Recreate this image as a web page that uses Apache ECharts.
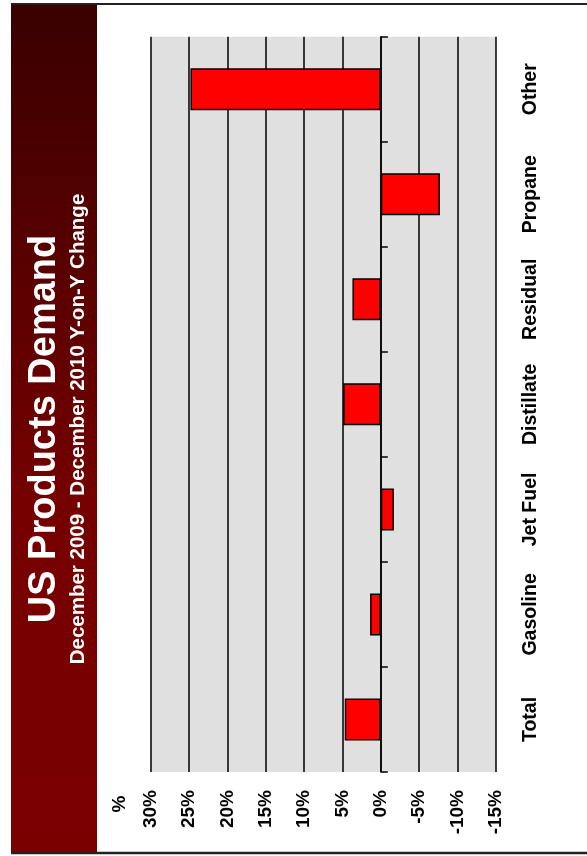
<!DOCTYPE html>
<html>
<head>
<meta charset="utf-8">
<script src="https://cdn.jsdelivr.net/npm/echarts@6/dist/echarts.min.js"></script>
<style>
  html, body { margin: 0; padding: 0; background: #fff; }
  #chart { width: 587px; height: 856px; }
</style>
</head>
<body>
<div id="chart"></div>
<script>
// Year-on-year change in US product demand, Dec 2009 to Dec 2010 (%)
const categories = ['Total', 'Gasoline', 'Jet Fuel', 'Distillate', 'Residual', 'Propane', 'Other'];
const changePct = [4.7, 1.4, -1.7, 4.9, 3.7, -7.7, 24.8];
const valueMin = -15;
const valueMax = 30;
const valueStep = 5;

const FONT = "'Liberation Sans', Arial, Helvetica, sans-serif";

const chart = echarts.init(document.getElementById('chart'), null, { renderer: 'canvas' });

chart.setOption({
  animation: false,
  backgroundColor: '#ffffff',
  grid: {
    left: 150.5,
    right: 91,
    top: 36.7,
    bottom: 84,
    show: true,
    backgroundColor: '#e0e0e0',
    borderWidth: 0
  },
  xAxis: {
    type: 'value',
    inverse: true,
    min: valueMin,
    max: valueMax,
    interval: valueStep,
    axisLine: { show: false },
    axisTick: { show: false },
    splitLine: { show: true, lineStyle: { color: '#000', width: 1.5 } },
    axisLabel: {
      rotate: 90,
      margin: 18,
      formatter: '{value}%',
      color: '#000',
      fontFamily: FONT,
      fontWeight: 'bold',
      fontSize: 19
    }
  },
  yAxis: [
    {
      // category labels along the right edge
      type: 'category',
      data: categories,
      position: 'right',
      axisLine: { show: false, onZero: false },
      axisTick: { show: false },
      splitLine: { show: false },
      axisLabel: {
        interval: 0,
        hideOverlap: false,
        rotate: 90,
        margin: 25,
        color: '#000',
        fontFamily: FONT,
        fontWeight: 'bold',
        fontSize: 19.5
      }
    },
    {
      // zero line with category ticks
      type: 'category',
      data: categories,
      position: 'right',
      axisLine: { show: true, onZero: true, lineStyle: { color: '#000', width: 1.5 } },
      axisTick: { show: true, interval: 0, length: 7, lineStyle: { color: '#000', width: 1.5 } },
      axisLabel: { show: false },
      splitLine: { show: false }
    }
  ],
  series: [
    {
      type: 'bar',
      yAxisIndex: 0,
      data: changePct,
      barWidth: '40%',
      itemStyle: { color: '#ff0000', borderColor: '#000', borderWidth: 1.5 },
      z: 3
    }
  ],
  graphic: [
    {
      type: 'rect',
      shape: { x: 11, y: 4, width: 86, height: 848 },
      style: {
        fill: new echarts.graphic.LinearGradient(0, 0, 0, 1, [
          { offset: 0, color: '#3a0000' },
          { offset: 0.6, color: '#760000' },
          { offset: 1, color: '#7a0000' }
        ])
      },
      z: 0
    },
    {
      type: 'line',
      shape: { x1: 11, y1: 4, x2: 587, y2: 4 },
      style: { stroke: '#222', lineWidth: 2 }
    },
    {
      type: 'line',
      shape: { x1: 11, y1: 853, x2: 587, y2: 853 },
      style: { stroke: '#222', lineWidth: 2.5 }
    },
    {
      type: 'text',
      x: 45,
      y: 429,
      rotation: Math.PI / 2,
      style: {
        text: 'US Products Demand',
        fill: '#ffffff',
        font: 'bold 38px ' + FONT,
        textAlign: 'center',
        textVerticalAlign: 'middle'
      },
      z: 5
    },
    {
      type: 'text',
      x: 78,
      y: 429,
      rotation: Math.PI / 2,
      style: {
        text: 'December 2009 - December 2010 Y-on-Y Change',
        fill: '#ffffff',
        font: 'bold 20.5px ' + FONT,
        textAlign: 'center',
        textVerticalAlign: 'middle'
      },
      z: 5
    },
    {
      type: 'text',
      x: 120,
      y: 804,
      rotation: Math.PI / 2,
      style: {
        text: '%',
        fill: '#000',
        font: 'bold 19px ' + FONT,
        textAlign: 'center',
        textVerticalAlign: 'middle'
      },
      z: 5
    }
  ]
});
</script>
</body>
</html>
